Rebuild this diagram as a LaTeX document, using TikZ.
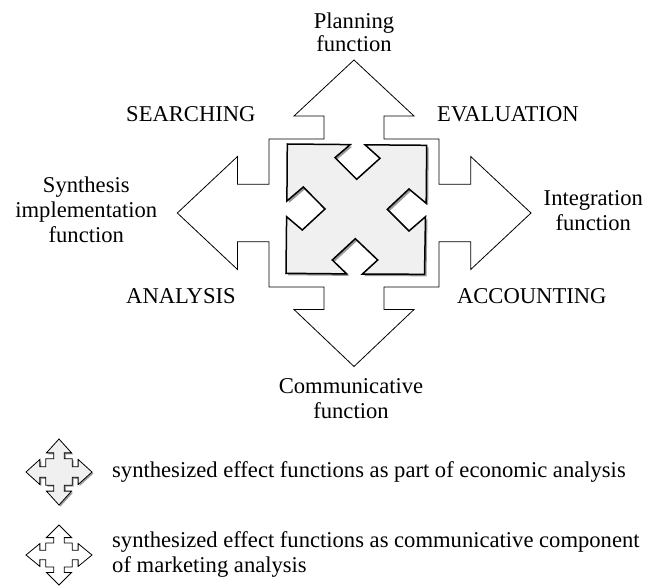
\documentclass[tikz,border=0pt]{standalone}
\usepackage{fontspec}
\setmainfont{Liberation Serif}
\usetikzlibrary{shadows}
\definecolor{boxgray}{HTML}{F0F0F0}
\definecolor{shadowgray}{HTML}{9A9A9A}
\tikzset{
  lbl/.style={font=\fontsize{22.6}{25}\selectfont, inner sep=0pt, text=black},
  crossline/.style={draw=black, line width=0.8pt, fill=white, line join=miter},
  graybox/.style={draw=black, line width=1.5pt, fill=boxgray, line join=miter,
    drop shadow={shadow xshift=2pt, shadow yshift=-2pt, fill=shadowgray, opacity=1}},
  iconwhite/.style={draw=black, line width=0.8pt, fill=white},
  icongray/.style={draw=black, line width=0.8pt, fill=boxgray,
    drop shadow={shadow xshift=1.5pt, shadow yshift=-1.5pt, fill=shadowgray, opacity=1}}
}
\begin{document}
\begin{tikzpicture}[x=1pt,y=-1pt]
\useasboundingbox (0,0) rectangle (657,586);

% big outline cross
\path[crossline] (324,139) -- (324,116) -- (294,116) -- (354,60) -- (414,116) -- (384,116) -- (384,139)
  -- (439,139) -- (439,184.3) -- (470.7,184.3) -- (470.7,156.5) -- (531,213) -- (470.7,269.5)
  -- (470.7,241.7) -- (439,241.7) -- (439,287) -- (384,287) -- (384,309.5) -- (414,309.5)
  -- (354,366.5) -- (294,309.5) -- (324,309.5) -- (324,287) -- (269,287) -- (269,241.7)
  -- (237.5,241.7) -- (237.5,269.5) -- (177.3,213) -- (237.5,156.5) -- (237.5,184.3)
  -- (269,184.3) -- (269,139) -- cycle;

% gray notched square
\path[graybox] (287.3,144) -- (350.3,144.6) -- (335,157.6) -- (356.7,179.3) -- (380,158.3) -- (365,144.8)
  -- (426.7,145.3) -- (426.2,203.3) -- (409,189) -- (387.3,209.3) -- (409,231) -- (425.5,216.7)
  -- (424.5,274.3) -- (362.3,274.1) -- (377.7,260) -- (355.3,238.7) -- (332.3,260) -- (346.7,273.9)
  -- (286,273.3) -- (286.6,216.7) -- (302.3,230) -- (325,209) -- (303.3,187) -- (286.9,201) -- cycle;

% labels
\node[lbl, font=\fontsize{22.6}{23}\selectfont, anchor=north, align=center] (plan) at (354,11.9) {\strut Planning\\function};
\node[lbl, anchor=base west] (search) at (126,121.7) {SEARCHING};
\node[lbl, anchor=base west] (eval) at (437,121.7) {EVALUATION};
\node[lbl, anchor=north, align=center] (synth) at (86.3,174.5) {\strut Synthesis\\implementation\\function};
\node[lbl, anchor=north, align=center] (integ) at (593.3,187.5) {\strut Integration\\function};
\node[lbl, anchor=base west] (anal) at (126,303) {ANALYSIS};
\node[lbl, anchor=base east] (acc) at (606.7,303) {ACCOUNTING};
\node[lbl, anchor=north, align=center] (comm) at (351,375.5) {\strut Communicative\\function};

% legend icons
\begin{scope}[shift={(59,472)}, x=33pt, y=-33pt]
\path[icongray] (0,-1) -- (0.38,-0.58) -- (0.16,-0.58) -- (0.16,-0.40) -- (0.40,-0.40) -- (0.40,-0.16)
  -- (0.58,-0.16) -- (0.58,-0.38) -- (1,0) -- (0.58,0.38) -- (0.58,0.16) -- (0.40,0.16) -- (0.40,0.40)
  -- (0.16,0.40) -- (0.16,0.58) -- (0.38,0.58) -- (0,1) -- (-0.38,0.58) -- (-0.16,0.58) -- (-0.16,0.40)
  -- (-0.40,0.40) -- (-0.40,0.16) -- (-0.58,0.16) -- (-0.58,0.38) -- (-1,0) -- (-0.58,-0.38)
  -- (-0.58,-0.16) -- (-0.40,-0.16) -- (-0.40,-0.40) -- (-0.16,-0.40) -- (-0.16,-0.58) -- (-0.38,-0.58) -- cycle;
\end{scope}
\begin{scope}[shift={(59,555)}, x=33pt, y=-30pt]
\path[iconwhite] (0,-1) -- (0.38,-0.58) -- (0.16,-0.58) -- (0.16,-0.40) -- (0.40,-0.40) -- (0.40,-0.16)
  -- (0.58,-0.16) -- (0.58,-0.38) -- (1,0) -- (0.58,0.38) -- (0.58,0.16) -- (0.40,0.16) -- (0.40,0.40)
  -- (0.16,0.40) -- (0.16,0.58) -- (0.38,0.58) -- (0,1) -- (-0.38,0.58) -- (-0.16,0.58) -- (-0.16,0.40)
  -- (-0.40,0.40) -- (-0.40,0.16) -- (-0.58,0.16) -- (-0.58,0.38) -- (-1,0) -- (-0.58,-0.38)
  -- (-0.58,-0.16) -- (-0.40,-0.16) -- (-0.40,-0.40) -- (-0.16,-0.40) -- (-0.16,-0.58) -- (-0.38,-0.58) -- cycle;
\end{scope}

\node[lbl, anchor=base west] (leg1) at (112,477) {synthesized effect functions as part of economic analysis};
\node[lbl, anchor=north west, align=left] (leg2) at (112,530) {\strut synthesized effect functions as communicative component\\of marketing analysis};
\end{tikzpicture}
\end{document}
